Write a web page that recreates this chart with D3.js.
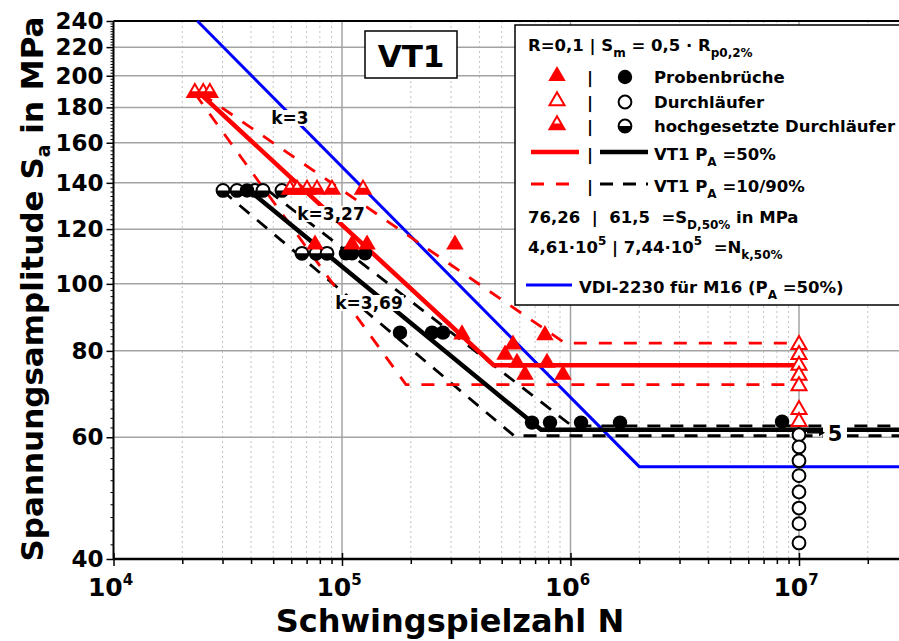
<!DOCTYPE html>
<html>
<head>
<meta charset="utf-8">
<script src="https://cdn.jsdelivr.net/npm/d3@7"></script>
<style>
  body { margin: 0; background: #fff; }
  svg { display: block; }
  text { font-family: "DejaVu Sans", Verdana, sans-serif; font-weight: bold; white-space: pre; }
</style>
</head>
<body>
<svg id="chart" width="899" height="641"></svg>
<script>
// ---- axis ticks -------------------------------------------------------
const yTickValues = [40, 60, 80, 100, 120, 140, 160, 180, 200, 220, 240];
const yGridValues = [60, 80, 100, 120, 140, 160, 180, 200, 220];
const xDecades = [1e4, 1e5, 1e6, 1e7];
const xDecadeExponents = ["4", "5", "6", "7"];

// ---- VT1 red series (triangles): [N, Sa in MPa] -----------------------
const redFractures = [[7.62e4, 114], [1.106e5, 114], [1.287e5, 114], [3.12e5, 114],
  [3.35e5, 84.5], [5.17e5, 79], [5.6e5, 81.7], [5.83e5, 76.9], [6.32e5, 73.9],
  [7.73e5, 84.3], [7.89e5, 76.9], [9.27e5, 73.9]];
const redRaised = [[2.27e4, 189], [2.47e4, 189], [2.64e4, 189],
  [5.92e4, 137], [6.36e4, 137], [7.03e4, 137], [7.77e4, 137], [9.04e4, 137], [1.236e5, 137]];
const redRunouts = [[1e7, 81.7], [1e7, 79.0], [1e7, 76.2], [1e7, 73.7], [1e7, 71.2], [1e7, 65.8], [1e7, 63.2]];

// ---- VT1 black series (circles) ---------------------------------------
const blackFractures = [[3.84e4, 136.5], [1.041e5, 110.7], [1.106e5, 110.7], [1.261e5, 110.7],
  [1.794e5, 85], [2.477e5, 85], [2.767e5, 85],
  [6.785e5, 63], [8.135e5, 63], [1.112e6, 63], [1.647e6, 63], [8.43e6, 63.2]];
const blackRaised = [[3.015e4, 136.5], [3.47e4, 136.5], [4.16e4, 136.5], [4.51e4, 136.5], [5.46e4, 136.5],
  [6.68e4, 110.7], [7.7e4, 110.7], [8.6e4, 110.7]];
const blackRunouts = [[1e7, 60.5], [1e7, 58.1], [1e7, 55.5], [1e7, 52.8], [1e7, 50.0], [1e7, 47.4], [1e7, 45.0], [1e7, 42.2]];

// ---- S-N curves: endurance limit SD, knee point Nk, slope k, start N, end N
const redP50 = { SD: 76.26, Nk: 4.61e5, k: 3.27, N0: 2.4e4, Nend: 1e7 };
const blackP50 = { SD: 61.5, Nk: 7.44e5, k: 3.69, N0: 3.72e4, Nend: 3e7 };
const vdiM16 = { SD: 54.4, Nk: 2e6, k: 3, S0: 240, Nend: 3e7 };
// scatter band lines (P_A = 10 % / 90 %)
const redP90 = [[2.42e4, 188.5], [9.46e5, 82.1], [1e7, 82.1]];
const redP10 = [[2.27e4, 188.5], [1.906e5, 71.5], [1e7, 71.5]];
const blackP90 = [[4.74e4, 136.5], [1.015e6, 62.3], [3e7, 62.3]];
const blackP10 = [[2.98e4, 136.5], [5.66e5, 60.3], [3e7, 60.3]];

// ---- scales -----------------------------------------------------------
const P = { left: 113.5, right: 899, top: 21, bottom: 559 };
const x = d3.scaleLog().domain([1e4, 1e7]).range([113.5, 799]);
const y = d3.scaleLog().domain([40, 240]).range([P.bottom, P.top]);
const NMAX = x.invert(P.right);

const RED = "#ff0000", BLUE = "#0000ff", GRID = "#a3a3a3", MINOR = "#c4c4c4";
const svg = d3.select("#chart");

svg.append("defs").append("clipPath").attr("id", "plotClip")
  .append("rect").attr("x", P.left).attr("y", P.top - 2)
  .attr("width", P.right - P.left).attr("height", P.bottom - P.top + 2);

// ---- grid ---------------------------------------------------------------
const minorN = [];
for (let e = 4; e <= 7; e++) for (let m = 2; m <= 9; m++) {
  const v = m * Math.pow(10, e);
  if (v <= NMAX) minorN.push(v);
}
const grid = svg.append("g");
grid.selectAll(".vminor").data(minorN).join("line")
  .attr("x1", d => x(d)).attr("x2", d => x(d)).attr("y1", P.top).attr("y2", P.bottom)
  .attr("stroke", MINOR).attr("stroke-width", 1).attr("stroke-dasharray", "2,3");
grid.selectAll(".vmajor").data(xDecades.slice(1)).join("line")
  .attr("x1", d => x(d)).attr("x2", d => x(d)).attr("y1", P.top).attr("y2", P.bottom)
  .attr("stroke", GRID).attr("stroke-width", 1.5);
grid.selectAll(".hgrid").data(yGridValues).join("line")
  .attr("x1", P.left).attr("x2", P.right).attr("y1", d => y(d)).attr("y2", d => y(d))
  .attr("stroke", GRID).attr("stroke-width", 1.5);

// ---- axes -----------------------------------------------------------------
const yMinor = d3.range(42, 240, 2).filter(v => !yTickValues.includes(v));
svg.append("g").attr("transform", `translate(${P.left},0)`)
  .call(d3.axisLeft(y).tickValues(yMinor).tickSize(3).tickFormat(""))
  .call(g => g.select(".domain").remove())
  .call(g => g.selectAll("line").attr("stroke-width", 1));
const yAxis = svg.append("g").attr("transform", `translate(${P.left},0)`)
  .call(d3.axisLeft(y).tickValues(yTickValues).tickSize(7).tickPadding(3).tickFormat(d3.format("d")));
yAxis.select(".domain").attr("stroke-width", 2).attr("d", `M0,${P.top}V${P.bottom}`);
yAxis.selectAll("line").attr("stroke-width", 1.5);
yAxis.selectAll("text").style("font-size", "23px").style("font-weight", "bold")
  .style("font-family", "'DejaVu Sans', sans-serif").attr("fill", "#000");

svg.append("g").attr("transform", `translate(0,${P.bottom})`)
  .call(d3.axisBottom(x).tickValues(minorN).tickSize(5).tickFormat(""))
  .call(g => g.select(".domain").remove())
  .call(g => g.selectAll("line").attr("stroke-width", 1.5));
const xAxis = svg.append("g").attr("transform", `translate(0,${P.bottom})`)
  .call(d3.axisBottom(x).tickValues(xDecades).tickSize(7).tickFormat(""));
xAxis.select(".domain").attr("stroke-width", 2.5).attr("d", `M${P.left},0H${P.right}`);
xAxis.selectAll("line").attr("stroke-width", 1.5).attr("y1", -6);

// decade labels 10^n
xDecades.forEach((d, i) => {
  const t = svg.append("text").attr("x", x(d) - 3).attr("y", 596)
    .attr("text-anchor", "middle").style("font-size", "25px");
  t.append("tspan").text("10");
  t.append("tspan").attr("dy", -11).style("font-size", "15px").text(xDecadeExponents[i]);
});

// top frame line
svg.append("line").attr("x1", P.left).attr("x2", P.right).attr("y1", P.top).attr("y2", P.top)
  .attr("stroke", "#000").attr("stroke-width", 2);

// axis titles
svg.append("text").attr("x", 450).attr("y", 632).attr("text-anchor", "middle")
  .style("font-size", "32px").text("Schwingspielzahl N");
const yt = svg.append("text").attr("transform", "translate(43,289) rotate(-90)")
  .attr("text-anchor", "middle").style("font-size", "31px");
yt.append("tspan").text("Spannungsamplitude S");
yt.append("tspan").attr("dy", 7).style("font-size", "19px").text("a");
yt.append("tspan").attr("dy", -7).text(" in MPa");

// ---- curves -------------------------------------------------------------
const line = d3.line().x(d => x(d[0])).y(d => y(d[1]));
const basquin = (c, N) => c.SD * Math.pow(c.Nk / N, 1 / c.k);
const meanCurve = c => [[c.N0, basquin(c, c.N0)], [c.Nk, c.SD], [c.Nend, c.SD]];
const vdiN0 = vdiM16.Nk * Math.pow(vdiM16.SD / vdiM16.S0, vdiM16.k);
const vdiPts = [[vdiN0, vdiM16.S0], [vdiM16.Nk, vdiM16.SD], [vdiM16.Nend, vdiM16.SD]];

const curves = svg.append("g").attr("clip-path", "url(#plotClip)").attr("fill", "none");
curves.append("path").attr("d", line(vdiPts)).attr("stroke", BLUE).attr("stroke-width", 3);
[blackP90, blackP10].forEach(p => curves.append("path").attr("d", line(p))
  .attr("stroke", "#000").attr("stroke-width", 2.8).attr("stroke-dasharray", "13,10"));
[redP90, redP10].forEach(p => curves.append("path").attr("d", line(p))
  .attr("stroke", RED).attr("stroke-width", 2.8).attr("stroke-dasharray", "13,12"));
curves.append("path").attr("d", line(meanCurve(blackP50))).attr("stroke", "#000").attr("stroke-width", 4.5);
curves.append("path").attr("d", line(meanCurve(redP50))).attr("stroke", RED).attr("stroke-width", 4.5);

// ---- markers ------------------------------------------------------------
function triPts(s, cut) {
  const h = s * 0.866, top = -2 * h / 3, base = h / 3;
  if (cut === undefined) return `M0,${top}L${s / 2},${base}L${-s / 2},${base}Z`;
  const yc = top + cut * h, hw = (s / 2) * cut;
  return `M${-hw},${yc}L${hw},${yc}L${s / 2},${base}L${-s / 2},${base}Z`;
}
function drawTri(g, type) {
  if (type === "filled") {
    g.append("path").attr("d", triPts(17.5)).attr("fill", RED);
  } else if (type === "open") {
    g.append("path").attr("d", triPts(15)).attr("fill", "#fff").attr("stroke", RED).attr("stroke-width", 2);
  } else {
    g.append("path").attr("d", triPts(15)).attr("fill", "#fff").attr("stroke", RED).attr("stroke-width", 2);
    g.append("path").attr("d", triPts(15, 0.55)).attr("fill", RED);
  }
}
function drawCirc(g, type) {
  if (type === "filled") {
    g.append("circle").attr("r", 7.2).attr("fill", "#000");
  } else if (type === "open") {
    g.append("circle").attr("r", 6.4).attr("fill", "#fff").attr("stroke", "#000").attr("stroke-width", 2);
  } else {
    g.append("circle").attr("r", 6.4).attr("fill", "#fff").attr("stroke", "#000").attr("stroke-width", 2);
    g.append("path").attr("d", "M-6.4,0A6.4,6.4 0 0 0 6.4,0Z").attr("fill", "#000");
  }
}
const marks = svg.append("g");
function plotSeries(data, drawer, type) {
  marks.append("g").selectAll("g").data(data).join("g")
    .attr("transform", d => `translate(${x(d[0])},${y(d[1])})`)
    .each(function () { drawer(d3.select(this), type); });
}
plotSeries(blackRunouts, drawCirc, "open");
plotSeries(blackRaised, drawCirc, "half");
plotSeries(blackFractures, drawCirc, "filled");
plotSeries(redRunouts, drawTri, "open");
plotSeries(redRaised, drawTri, "half");
plotSeries(redFractures, drawTri, "filled");

// ---- slope labels with white background ----------------------------------
function boxedLabel(cx, cy, str, size) {
  const g = svg.append("g");
  const t = g.append("text").attr("x", cx).attr("y", cy).attr("text-anchor", "middle")
    .attr("dominant-baseline", "central").style("font-size", size + "px").text(str);
  const b = t.node().getBBox();
  g.insert("rect", "text").attr("x", b.x - 1).attr("y", b.y + 2).attr("width", b.width + 2)
    .attr("height", b.height - 4).attr("fill", "#fff");
}
boxedLabel(290, 118, "k=3", 17);
boxedLabel(331, 214, "k=3,27", 17);
boxedLabel(369, 303, "k=3,69", 17);

// run-out count marker at 10^7
const arrowY = y(60.9);
svg.append("rect").attr("x", 823).attr("y", arrowY - 11).attr("width", 24).attr("height", 22).attr("fill", "#fff");
svg.append("line").attr("x1", x(1e7) + 8).attr("x2", 821).attr("y1", arrowY).attr("y2", arrowY)
  .attr("stroke", "#000").attr("stroke-width", 1.5);
svg.append("path").attr("d", `M825,${arrowY}l-6,-3.5v7Z`).attr("fill", "#000");
svg.append("text").attr("x", 835).attr("y", arrowY + 8).attr("text-anchor", "middle")
  .style("font-size", "21px").text("5");

// ---- VT1 title box ----------------------------------------------------------
svg.append("rect").attr("x", 365).attr("y", 31).attr("width", 92).attr("height", 47)
  .attr("fill", "#fff").attr("stroke", "#000").attr("stroke-width", 1.5);
svg.append("text").attr("x", 411).attr("y", 67).attr("text-anchor", "middle")
  .style("font-size", "31px").text("VT1");

// ---- legend -------------------------------------------------------------------
const LF = "16.5px";
const L = svg.append("g");
L.append("rect").attr("x", 515).attr("y", 25).attr("width", 420).attr("height", 280)
  .attr("fill", "#fff").attr("stroke", "#000").attr("stroke-width", 1.5);
function rich(xp, yp, parts) {
  const t = L.append("text").attr("x", xp).attr("y", yp).style("font-size", LF);
  let shift = 0;
  parts.forEach(p => {
    const [s, kind] = Array.isArray(p) ? p : [p, null];
    const target = kind === "sub" ? 6 : kind === "sup" ? -8 : 0;
    const ts = t.append("tspan").attr("dy", target - shift).text(s);
    if (kind) ts.style("font-size", "12px");
    shift = target;
  });
  return t;
}
rich(528, 51, ["R=0,1 | S", ["m", "sub"], " = 0,5 · R", ["p0,2%", "sub"]]);
const rowY = [83, 108, 132];
const rowKinds = ["filled", "open", "half"];
const rowText = ["Probenbrüche", "Durchläufer", "hochgesetzte Durchläufer"];
rowKinds.forEach((k, i) => {
  drawTri(L.append("g").attr("transform", `translate(557,${rowY[i] - 7})`), k);
  drawCirc(L.append("g").attr("transform", `translate(625,${rowY[i] - 6})`), k);
  L.append("text").attr("x", 590).attr("y", rowY[i]).attr("text-anchor", "middle").style("font-size", LF).text("|");
  rich(654, rowY[i], [rowText[i]]);
});
L.append("line").attr("x1", 531).attr("x2", 579).attr("y1", 152).attr("y2", 152).attr("stroke", RED).attr("stroke-width", 4.5);
L.append("line").attr("x1", 600).attr("x2", 648).attr("y1", 152).attr("y2", 152).attr("stroke", "#000").attr("stroke-width", 4.5);
L.append("text").attr("x", 590).attr("y", 160).attr("text-anchor", "middle").style("font-size", LF).text("|");
rich(654, 160, ["VT1 P", ["A", "sub"], " =50%"]);
L.append("line").attr("x1", 531).attr("x2", 579).attr("y1", 184).attr("y2", 184).attr("stroke", RED)
  .attr("stroke-width", 2.8).attr("stroke-dasharray", "13,12");
L.append("line").attr("x1", 600).attr("x2", 648).attr("y1", 184).attr("y2", 184).attr("stroke", "#000")
  .attr("stroke-width", 2.8).attr("stroke-dasharray", "13,10");
L.append("text").attr("x", 590).attr("y", 192).attr("text-anchor", "middle").style("font-size", LF).text("|");
rich(654, 192, ["VT1 P", ["A", "sub"], " =10/90%"]);
rich(528, 223, ["76,26  |  61,5  =S", ["D,50%", "sub"], " in MPa"]);
rich(528, 253, ["4,61·10", ["5", "sup"], " | 7,44·10", ["5", "sup"], "  =N", ["k,50%", "sub"]]);
L.append("line").attr("x1", 526).attr("x2", 572).attr("y1", 285).attr("y2", 285).attr("stroke", BLUE).attr("stroke-width", 3);
rich(579, 293, ["VDI-2230 für M16 (P", ["A", "sub"], " =50%)"]);
</script>
</body>
</html>
